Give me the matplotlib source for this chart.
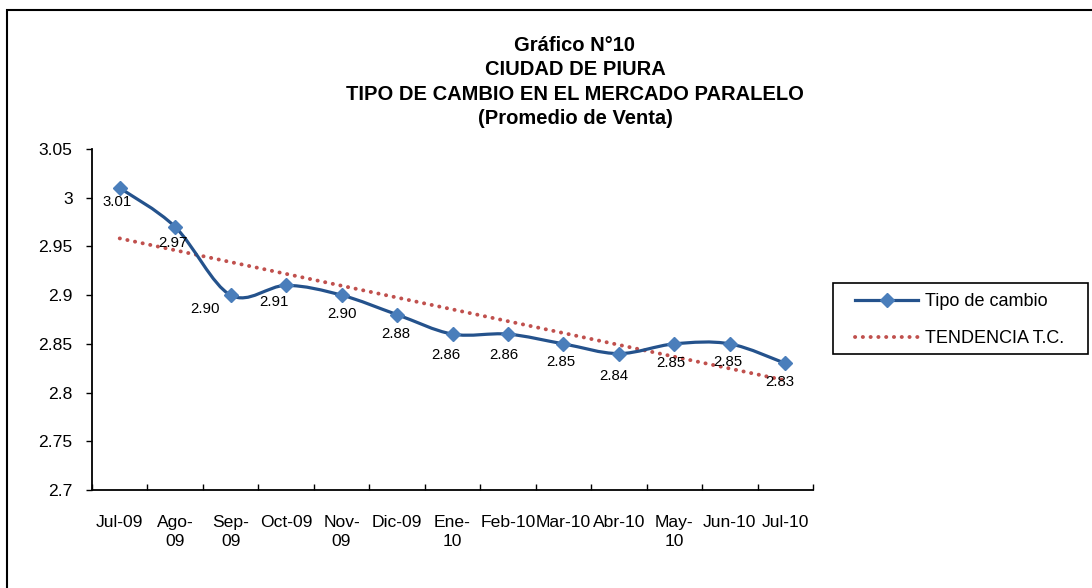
import numpy as np
import matplotlib
matplotlib.use("Agg")
import matplotlib.pyplot as plt
from matplotlib.path import Path
from matplotlib.patches import PathPatch, Rectangle
from matplotlib.lines import Line2D
from matplotlib.ticker import FuncFormatter, FixedLocator

plt.rcParams['font.family'] = ['Liberation Sans', 'DejaVu Sans']

# Datos
meses = ["Jul-09", "Ago-\n09", "Sep-\n09", "Oct-09", "Nov-\n09", "Dic-09", "Ene-\n10",
         "Feb-10", "Mar-10", "Abr-10", "May-\n10", "Jun-10", "Jul-10"]
tipo_cambio = [3.01, 2.97, 2.90, 2.91, 2.90, 2.88, 2.86, 2.86, 2.85, 2.84, 2.85, 2.85, 2.83]
etiquetas = ["3.01", "2.97", "2.90", "2.91", "2.90", "2.88", "2.86", "2.86", "2.85",
             "2.84", "2.85", "2.85", "2.83"]

titulo = "Gráfico N°10\nCIUDAD DE PIURA\nTIPO DE CAMBIO EN EL MERCADO PARALELO\n(Promedio de Venta)"

# desplazamiento de las etiquetas (pixeles)
desp = [(-3, -14), (-2, -16), (-26, -14), (-12, -17), (0, -19), (-1, -19), (-7, -21),
        (-4, -21), (-3, -18), (-5, -22), (-4, -19), (-2, -18), (-6, -19)]

azul_linea = '#24528C'
azul_marca = '#4A7EBB'
rojo = '#C0504D'

x = np.arange(len(tipo_cambio))
y = np.array(tipo_cambio)

fig = plt.figure(figsize=(10.92, 5.88), dpi=100)
ax = fig.add_axes([92 / 1092, 1 - 490 / 588, 721 / 1092, 341 / 588])

# linea suavizada tipo Excel (bezier)
px = np.concatenate([[x[0]], x, [x[-1]]])
py = np.concatenate([[y[0]], y, [y[-1]]])
verts = [(x[0], y[0])]
codes = [Path.MOVETO]
for i in range(1, len(px) - 2):
    c1 = (px[i] + (px[i + 1] - px[i - 1]) / 6, py[i] + (py[i + 1] - py[i - 1]) / 6)
    c2 = (px[i + 1] - (px[i + 2] - px[i]) / 6, py[i + 1] - (py[i + 2] - py[i]) / 6)
    verts += [c1, c2, (px[i + 1], py[i + 1])]
    codes += [Path.CURVE4] * 3
ax.add_patch(PathPatch(Path(verts, codes), fill=False, edgecolor=azul_linea,
                       lw=2.3, zorder=3, capstyle='round', joinstyle='round'))
ax.plot(x, y, ls='none', marker='D', ms=7.5, color=azul_marca, zorder=4)

# linea de tendencia
m, b = np.polyfit(x, y, 1)
ax.plot(x, m * x + b, color=rojo, lw=2.8, linestyle=(0, (0.05, 1.95)),
        dash_capstyle='round', zorder=2)

for xi, yi, txt, (dx, dy) in zip(x, y, etiquetas, desp):
    ax.annotate(txt, (xi, yi), xytext=(dx, dy), textcoords='offset pixels',
                ha='center', va='center', fontsize=10.8, zorder=5)

ax.set_xlim(-0.5, len(meses) - 0.5)
ax.set_ylim(2.7, 3.05)
ax.yaxis.set_major_locator(FixedLocator(np.arange(2.7, 3.0501, 0.05)))
ax.yaxis.set_major_formatter(FuncFormatter(lambda v, p: f"{round(v, 2):g}"))
ax.set_xticks(x)
ax.set_xticklabels(meses)
ax.set_xticks(np.arange(-0.5, len(meses), 1), minor=True)
ax.tick_params(axis='x', which='major', length=0, pad=18, labelsize=12.6)
ax.tick_params(axis='x', which='minor', direction='in', length=4.3, width=1)
ax.tick_params(axis='y', direction='out', length=4, width=1, pad=10, labelsize=12.6)
plt.setp(ax.get_xticklabels(), linespacing=1.35)
for s in ['top', 'right']:
    ax.spines[s].set_visible(False)
for s in ['left', 'bottom']:
    ax.spines[s].set_linewidth(1.3)

fig.text(575 / 1092, 1 - 82 / 588, titulo, ha='center', va='center', fontsize=14.5,
         fontweight='bold', linespacing=1.36)

# leyenda con marco aparte
fig.add_artist(Rectangle((833 / 1092, 1 - 354 / 588), 255 / 1092, 71 / 588,
                         transform=fig.transFigure, fill=False, edgecolor='black', lw=1.2))
handles = [Line2D([], [], color=azul_linea, lw=2.3, marker='D', ms=7.5,
                  markerfacecolor=azul_marca, markeredgecolor=azul_marca),
           Line2D([], [], color=rojo, lw=2.8, linestyle=(0, (0.05, 1.95)),
                  dash_capstyle='round')]
fig.legend(handles, ['Tipo de cambio', 'TENDENCIA T.C.'], loc='center left',
           bbox_to_anchor=(855 / 1092, 1 - 320 / 588), bbox_transform=fig.transFigure,
           borderaxespad=0, borderpad=0, frameon=False, fontsize=13,
           handlelength=3.5, handletextpad=0.4, labelspacing=1.1)

# borde del area del grafico
fig.add_artist(Rectangle((7 / 1092, -0.1), 1.2, 1.1 - 10 / 588, transform=fig.transFigure,
                         fill=False, edgecolor='black', lw=1.5))

fig.savefig('out.png', dpi=100)
